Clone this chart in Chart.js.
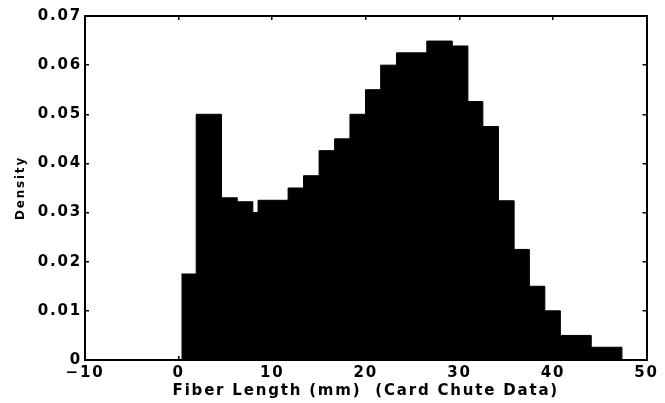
<!DOCTYPE html>
<html>
<head>
<meta charset="utf-8">
<title>Fiber length density</title>
<script src="https://cdn.jsdelivr.net/npm/chart.js@4/dist/chart.umd.min.js"></script>
<style>
  body { margin: 0; background: #fff; }
  canvas { display: block; background: #fff; }
</style>
</head>
<body>
<canvas id="histo" width="665" height="403"></canvas>
<script>
// bin edges (mm), one more than the heights
const binEdges = [0.29, 1.88, 4.58, 6.27, 7.93, 8.49, 11.70, 13.35, 15.01, 16.67,
                  18.31, 19.97, 21.59, 23.28, 26.52, 29.24, 30.91, 32.51, 34.18,
                  35.85, 37.48, 39.13, 40.79, 44.09, 47.37];
// density of each bin
const density = [0.0175, 0.0500, 0.0330, 0.0322, 0.0300, 0.0325, 0.0350, 0.0375,
                 0.0426, 0.0450, 0.0500, 0.0550, 0.0600, 0.0625, 0.0649, 0.0639,
                 0.0526, 0.0475, 0.0324, 0.0225, 0.0150, 0.0100, 0.0050, 0.0026];

const xTickLabels = ['\u221210', '0', '10', '20', '30', '40', '50'];
const yTickLabels = ['0', '0.01', '0.02', '0.03', '0.04', '0.05', '0.06', '0.07'];

document.addEventListener('DOMContentLoaded', () => {
    buildHisto('histo', binEdges, density);
});

// histogramme : une ligne en escalier remplie jusqu'à zéro
function buildHisto(idCanvas, edges, heights) {
    const points = heights.map((h, i) => ({ x: edges[i], y: h }));
    points.push({ x: edges[edges.length - 1], y: 0 });

    const police = 'DejaVu Sans';
    const grille = {
        drawOnChartArea: false,
        drawTicks: true,
        tickLength: -4,
        color: '#000',
        lineWidth: 1.5
    };
    const bord = { display: true, color: '#000', width: 2 };

    // espacement des lettres pour imiter le texte étiré du scan
    const espacement = {
        id: 'espacement',
        beforeDraw(chart) { chart.ctx.letterSpacing = '1.8px'; }
    };

    const ctx = document.getElementById(idCanvas).getContext('2d');
    new Chart(ctx, {
        type: 'line',
        data: {
            datasets: [{
                data: points,
                stepped: 'before',
                fill: 'origin',
                backgroundColor: '#000',
                borderColor: '#000',
                borderWidth: 1,
                pointRadius: 0,
                tension: 0
            }]
        },
        options: {
            responsive: false,
            animation: false,
            devicePixelRatio: 1,
            layout: { padding: { top: 16, right: 12, left: 0, bottom: 0 } },
            plugins: { legend: { display: false }, tooltip: { enabled: false } },
            scales: {
                x: {
                    type: 'linear',
                    position: 'bottom',
                    min: -10, max: 50,
                    grid: grille,
                    border: bord,
                    ticks: {
                        stepSize: 10,
                        padding: 8,
                        maxRotation: 0,
                        color: '#000',
                        font: { family: police, size: 15, weight: 'bold' },
                        callback: (v) => xTickLabels[Math.round((v + 10) / 10)]
                    },
                    title: {
                        display: true,
                        text: 'Fiber Length (mm)  (Card Chute Data)',
                        color: '#000',
                        font: { family: police, size: 15, weight: 'bold' },
                        padding: { top: 0, bottom: 3 }
                    },
                    afterFit: (s) => { s.height = 43; }
                },
                x2: {
                    type: 'linear',
                    position: 'top',
                    min: -10, max: 50,
                    grid: grille,
                    border: bord,
                    ticks: { stepSize: 10, display: false },
                    afterFit: (s) => { s.height = 0; }
                },
                y: {
                    position: 'left',
                    min: 0, max: 0.07,
                    grid: grille,
                    border: bord,
                    ticks: {
                        stepSize: 0.01,
                        padding: 7,
                        color: '#000',
                        font: { family: police, size: 15, weight: 'bold' },
                        callback: (v) => yTickLabels[Math.round(v / 0.01)]
                    },
                    title: {
                        display: true,
                        text: 'Density',
                        color: '#000',
                        font: { family: police, size: 12, weight: 'bold' },
                        padding: { top: 14, bottom: 0 }
                    },
                    afterFit: (s) => { s.width = 85; }
                },
                y2: {
                    position: 'right',
                    min: 0, max: 0.07,
                    grid: grille,
                    border: bord,
                    ticks: { stepSize: 0.01, display: false },
                    afterFit: (s) => { s.width = 0; }
                }
            }
        },
        plugins: [espacement]
    });
}
</script>
</body>
</html>
